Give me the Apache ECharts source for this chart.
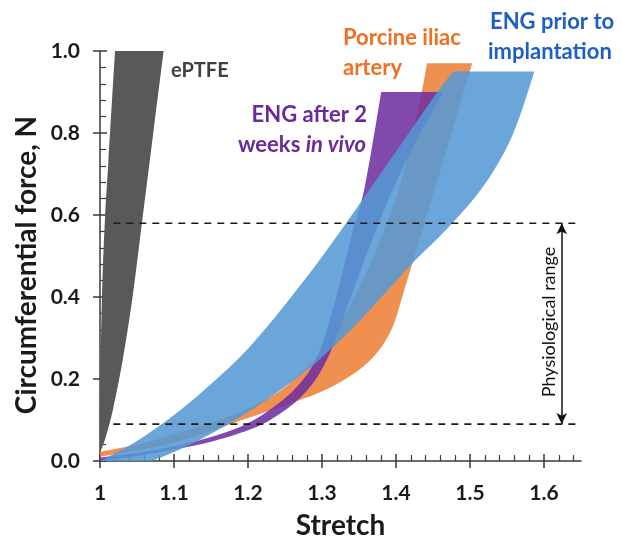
<!DOCTYPE html>
<html><head><meta charset="utf-8">
<script src="https://cdn.jsdelivr.net/npm/echarts@6/dist/echarts.min.js"></script>
<style>html,body{margin:0;padding:0;background:#fff}#c{width:622px;height:538px}</style>
</head><body><div id="c"></div>
<script>
// ---- data (stretch, circumferential force N) ----
const xTickValues = [1, 1.1, 1.2, 1.3, 1.4, 1.5, 1.6];
const yTickValues = [0, 0.2, 0.4, 0.6, 0.8, 1.0];

// ePTFE band: left edge (bottom->top), right edge (top->bottom)
const eptfeLeft  = [[1.0,0.02],[1.0005,0.2],[1.002,0.35],[1.004,0.48],[1.007,0.6],[1.0113,0.73],[1.0203,1.0]];
const eptfeRight = [[1.086,1.0],[1.072,0.8],[1.058,0.6],[1.044,0.4],[1.031,0.25],[1.018,0.13],[1.008,0.06],[1.0,0.02]];

// Porcine iliac artery band
const porcineUpper = [[1.0,0.022],[1.05,0.04],[1.1,0.065],[1.15,0.093],[1.2,0.128],[1.25,0.18],[1.3,0.27],[1.35,0.42],[1.4,0.64],[1.43,0.86],[1.442,0.97]];
const porcineLower = [[1.503,0.97],[1.48,0.83],[1.455,0.68],[1.43,0.53],[1.41,0.41],[1.395,0.325],[1.375,0.265],[1.35,0.222],[1.32,0.188],[1.295,0.166],[1.27,0.149],[1.2,0.105],[1.1,0.045],[1.0,0.01]];

// ENG after 2 weeks in vivo band
const engAfterUpper = [[1.0,0.008],[1.05,0.02],[1.1,0.036],[1.158,0.063],[1.203,0.095],[1.247,0.149],[1.275,0.2],[1.295,0.26],[1.31,0.34],[1.325,0.44],[1.34,0.55],[1.358,0.67],[1.38,0.9]];
const engAfterLower = [[1.464,0.9],[1.43,0.79],[1.4,0.68],[1.37,0.55],[1.345,0.43],[1.325,0.33],[1.31,0.26],[1.29,0.195],[1.265,0.145],[1.23,0.1],[1.2,0.075],[1.15,0.047],[1.1,0.028],[1.05,0.012],[1.0,0.0]];

// ENG prior to implantation band
const engPriorUpper = [[1.0,0.0],[1.05,0.049],[1.1,0.112],[1.15,0.188],[1.2,0.274],[1.25,0.381],[1.3,0.498],[1.35,0.625],[1.4,0.755],[1.45,0.885],[1.477,0.95]];
const engPriorLower = [[1.587,0.95],[1.558,0.797],[1.52,0.675],[1.47,0.568],[1.42,0.478],[1.35,0.34],[1.3,0.253],[1.27,0.208],[1.225,0.149],[1.18,0.097],[1.135,0.052],[1.1,0.022],[1.07,0.0]];

// physiological range
const physioRange = [0.09, 0.58];
const dashedSpan = [1.018, 1.65];
const arrowStretch = 1.624;

// ---- chart ----
const FONT = 'Lato, "Open Sans", sans-serif';
const chart = echarts.init(document.getElementById('c'), null, {renderer: 'canvas'});

function f(p) { return p[0].toFixed(2) + ',' + p[1].toFixed(2); }
function curveThrough(pts) {
  let d = '';
  for (let i = 0; i < pts.length - 1; i++) {
    const p0 = pts[i - 1] || pts[i], p1 = pts[i], p2 = pts[i + 1], p3 = pts[i + 2] || pts[i + 1];
    const c1 = [p1[0] + (p2[0] - p0[0]) / 6, p1[1] + (p2[1] - p0[1]) / 6];
    const c2 = [p2[0] - (p3[0] - p1[0]) / 6, p2[1] - (p3[1] - p1[1]) / 6];
    d += ' C' + f(c1) + ' ' + f(c2) + ' ' + f(p2);
  }
  return d;
}
function band(name, a, b, color, opacity) {
  return {
    type: 'custom', name, coordinateSystem: 'cartesian2d', xAxisIndex: 0, yAxisIndex: 0,
    data: a.concat(b), encode: {x: 0, y: 1}, silent: true, clip: false,
    renderItem: function (params, api) {
      if (params.dataIndex !== 0) return {type: 'group', children: []};
      const A = a.map(p => api.coord(p)), B = b.map(p => api.coord(p));
      const d = 'M' + f(A[0]) + curveThrough(A) + ' L' + f(B[0]) + curveThrough(B) + ' Z';
      return {type: 'path', shape: {pathData: d}, style: {fill: color, opacity: opacity}};
    }
  };
}
function dashed(v) {
  return {type: 'line', xAxisIndex: 0, yAxisIndex: 0, data: [[dashedSpan[0], v], [dashedSpan[1], v]],
    showSymbol: false, silent: true, lineStyle: {color: '#1a1a1a', width: 1.6, type: [7, 6]}, z: 5};
}
const fmtX = v => String(parseFloat(v.toFixed(2)));
const fmtY = v => v.toFixed(1);
const axisColor = '#3a3a3a';
const txt = (text, x, y, size, color, align) => ({type: 'text', x, y, silent: true,
  style: {text, font: 'bold ' + size + 'px ' + FONT, fill: color, align: align || 'left', verticalAlign: 'middle'}});

chart.setOption({
  animation: false,
  grid: {left: 100, right: 41, top: 51, bottom: 77, outerBoundsMode: 'none', containLabel: false},
  xAxis: [{
    type: 'value', min: 1, max: 1.65, interval: 0.1,
    axisLine: {lineStyle: {color: axisColor, width: 1.5}},
    axisTick: {inside: true, length: 7, customValues: xTickValues, lineStyle: {color: axisColor, width: 1.5}},
    minorTick: {show: true, splitNumber: 5, length: 6, lineStyle: {color: axisColor, width: 1.2}},
    axisLabel: {customValues: xTickValues, formatter: fmtX, margin: 22, fontFamily: FONT, fontWeight: 'bold', fontSize: 21, color: '#1a1a1a'},
    splitLine: {show: false},
    name: 'Stretch', nameLocation: 'middle', nameGap: 51,
    nameTextStyle: {fontFamily: FONT, fontWeight: 'bold', fontSize: 28, color: '#1a1a1a'}
  }, {
    type: 'value', min: 1, max: 1.65, interval: 0.1, position: 'bottom', gridIndex: 0,
    axisLine: {show: false},
    axisTick: {inside: false, length: 7, customValues: xTickValues, lineStyle: {color: axisColor, width: 1.5}},
    axisLabel: {show: false}, splitLine: {show: false}
  }],
  yAxis: [{
    type: 'value', min: 0, max: 1, interval: 0.2,
    axisLine: {show: true, lineStyle: {color: axisColor, width: 1.5}},
    axisTick: {show: true, inside: true, length: 7, customValues: yTickValues, lineStyle: {color: axisColor, width: 1.5}},
    minorTick: {show: true, splitNumber: 5, length: 6, lineStyle: {color: axisColor, width: 1.2}},
    axisLabel: {customValues: yTickValues, formatter: fmtY, margin: 20, fontFamily: FONT, fontWeight: 'bold', fontSize: 21, color: '#1a1a1a'},
    splitLine: {show: false}
  }, {
    type: 'value', min: 0, max: 1, interval: 0.2, position: 'left', gridIndex: 0,
    axisLine: {show: false},
    axisTick: {show: true, inside: false, length: 7, customValues: yTickValues, lineStyle: {color: axisColor, width: 1.5}},
    axisLabel: {show: false}, splitLine: {show: false}
  }],
  series: [
    band('ePTFE', eptfeLeft, eptfeRight, '#595959', 1),
    band('Porcine iliac artery', porcineUpper, porcineLower, '#ED7D31', 0.85),
    band('ENG after 2 weeks in vivo', engAfterUpper, engAfterLower, '#7030A0', 0.88),
    band('ENG prior to implantation', engPriorUpper, engPriorLower, '#5499D5', 0.87),
    dashed(physioRange[1]),
    dashed(physioRange[0]),
    {type: 'line', xAxisIndex: 0, yAxisIndex: 0, data: [], silent: true,
     markLine: {silent: true, symbol: ['arrow', 'arrow'], symbolSize: [8, 11], label: {show: false},
       lineStyle: {color: '#111', width: 1.5, type: 'solid'},
       data: [[{coord: [arrowStretch, physioRange[0]]}, {coord: [arrowStretch, physioRange[1]]}]]}}
  ],
  graphic: [
    {type: 'text', x: 27, y: 265, rotation: Math.PI / 2, silent: true,
     style: {text: 'Circumferential force, N', font: 'bold 28px ' + FONT, fill: '#1a1a1a', align: 'center', verticalAlign: 'middle'}},
    txt('ePTFE', 171, 71, 20, '#404040'),
    txt('Porcine iliac', 343, 38, 22, '#F07021'),
    txt('artery', 343, 68, 22, '#F07021'),
    txt('ENG prior to', 490, 22, 22, '#1F5EC4'),
    txt('implantation', 488, 52, 22, '#1F5EC4'),
    txt('ENG after 2', 367, 115, 22, '#6A2A9C', 'right'),
    {type: 'text', x: 366, y: 145, silent: true, style: {
      text: '{n|weeks }{i|in vivo}', align: 'right', verticalAlign: 'middle',
      rich: {n: {font: 'bold 22px ' + FONT, fill: '#6A2A9C'},
             i: {font: 'italic bold 22px ' + FONT, fill: '#6A2A9C'}}}},
    {type: 'text', x: 549, y: 322, rotation: Math.PI / 2, silent: true,
     style: {text: 'Physiological range', font: '18px ' + FONT, fill: '#111', align: 'center', verticalAlign: 'middle'}}
  ]
});
</script></body></html>
